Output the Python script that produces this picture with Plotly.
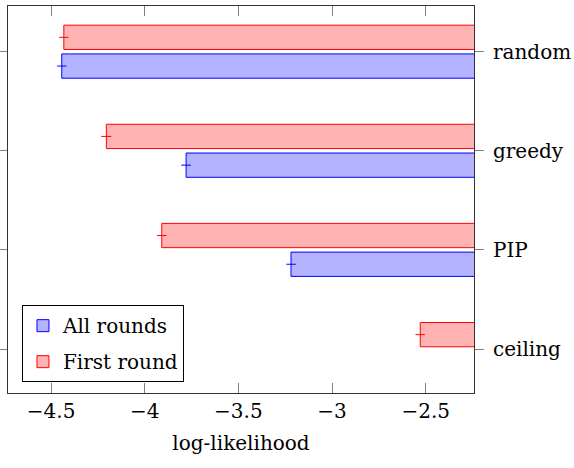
import plotly.graph_objects as go

categories = ["random", "greedy", "PIP", "ceiling"]
all_rounds = [-4.443, -3.779, -3.219, None]
all_rounds_err = [0.025, 0.026, 0.025, None]
first_round = [-4.432, -4.205, -3.909, -2.529]
first_round_err = [0.025, 0.027, 0.025, 0.025]
x_tickvals = [-4.5, -4.0, -3.5, -3.0, -2.5]
x_ticktext = ["\u22124.5", "\u22124", "\u22123.5", "\u22123", "\u22122.5"]

FONT = "DejaVu Serif"
FS = 20
BAR_W = 0.245

fig = go.Figure()
fig.add_trace(go.Bar(
    name="All rounds", y=categories, x=all_rounds, orientation="h",
    width=BAR_W, offset=0.145 - BAR_W / 2, legendgroup="a",
    marker=dict(color="#b3b3ff", line=dict(color="#0000ff", width=1)),
    error_x=dict(type="data", array=all_rounds_err, color="#0000ff", thickness=1, width=0),
))
fig.add_trace(go.Bar(
    name="First round", y=categories, x=first_round, orientation="h",
    width=BAR_W, offset=-0.145 - BAR_W / 2, legendgroup="b",
    marker=dict(color="#ffb3b3", line=dict(color="#ff0000", width=1)),
    error_x=dict(type="data", array=first_round_err, color="#ff0000", thickness=1, width=0),
))

fig.update_layout(
    width=574, height=468,
    margin=dict(l=8, r=100, t=6, b=75, autoexpand=False),
    barmode="overlay",
    plot_bgcolor="white", paper_bgcolor="white",
    font=dict(family=FONT, size=FS, color="black"),
    showlegend=True,
    legend=dict(
        x=0.03, y=0.028, xanchor="left", yanchor="bottom",
        bordercolor="black", borderwidth=1, bgcolor="white",
        font=dict(family=FONT, size=FS), traceorder="grouped", tracegroupgap=7,
    ),
    xaxis=dict(
        range=[-4.73, -2.242], tickvals=x_tickvals, ticktext=x_ticktext,
        ticks="inside", ticklen=10, tickcolor="#808080", tickwidth=1,
        showline=True, linecolor="#333333", linewidth=1, mirror="ticks",
        showgrid=False, zeroline=False, automargin=False,
        title=dict(text="log-likelihood", standoff=13, font=dict(family=FONT, size=FS)),
        tickfont=dict(family=FONT, size=FS),
    ),
    yaxis=dict(
        categoryorder="array", categoryarray=categories,
        range=[3.444, -0.461], side="right",
        ticks="outside", ticklen=9, tickcolor="#808080", tickwidth=1,
        showline=True, linecolor="#333333", linewidth=1, mirror="ticks",
        showgrid=False, zeroline=False, automargin=False,
        ticklabelstandoff=5,
        tickfont=dict(family=FONT, size=FS),
    ),
)

fig.write_html("out.html", config={"displayModeBar": False},
               post_script="document.body.style.margin='0';")
